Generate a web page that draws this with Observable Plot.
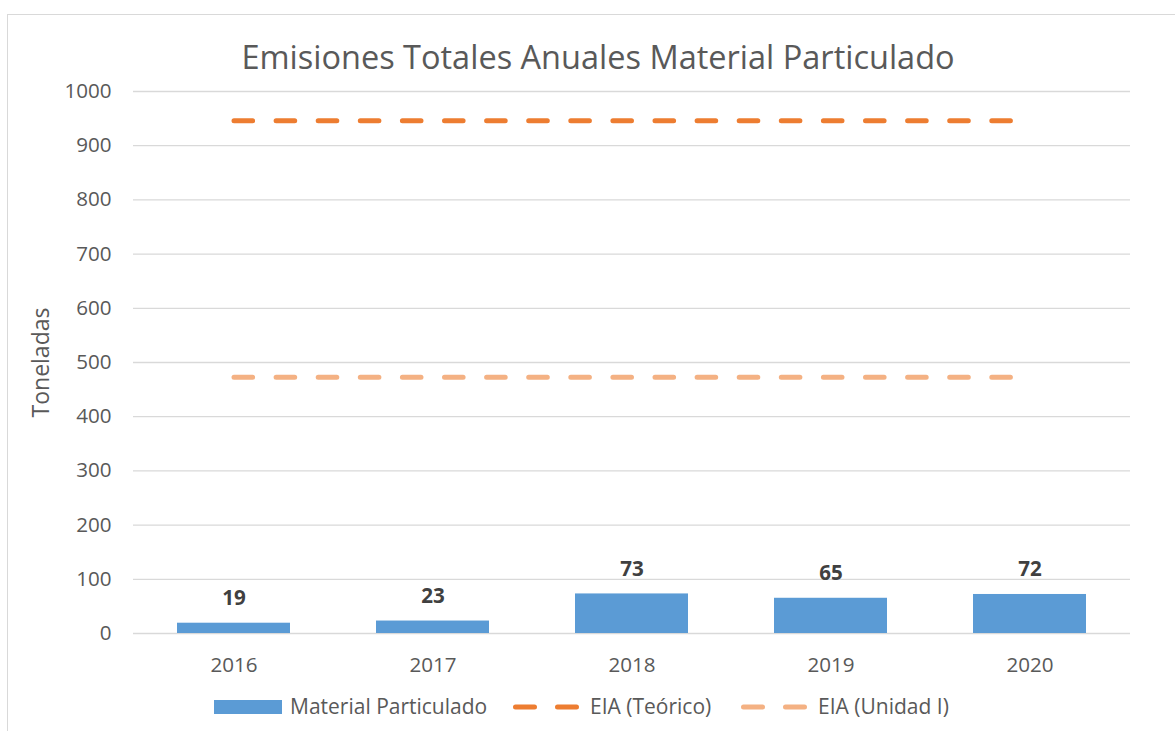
<!DOCTYPE html>
<html>
<head>
<meta charset="utf-8">
<script src="https://cdn.jsdelivr.net/npm/d3@7"></script>
<script src="https://cdn.jsdelivr.net/npm/@observablehq/plot@0.6"></script>
<style>
  html, body { margin: 0; padding: 0; background: #fff; }
  body { width: 1175px; height: 731px; position: relative; overflow: hidden; font-family: "Open Sans", sans-serif; color: #595959; }
  #frame { position: absolute; left: 7px; top: 14px; width: 1300px; height: 900px; border: 1.5px solid #d9d9d9; box-sizing: border-box; }
  #title { position: absolute; left: 0; top: 37px; width: 1196px; height: 40px; line-height: 40px; text-align: center; font-size: 32.5px; color: #595959; white-space: nowrap; }
  #chart { position: absolute; left: 0; top: 78px; }
  .lg { position: absolute; height: 30px; line-height: 30px; top: 691px; font-size: 21px; color: #595959; white-space: nowrap; }
  .sw { position: absolute; }
</style>
</head>
<body>
<div id="frame"></div>
<div id="title">Emisiones Totales Anuales Material Particulado</div>
<div id="chart"></div>
<div class="sw" id="sw1" style="left:214px; top:700px; width:68px; height:14px; background:#5B9BD5;"></div>
<div class="lg" style="left:290px;">Material Particulado</div>
<svg class="sw" style="left:513px; top:697px;" width="66" height="20"><line x1="2.5" x2="63.5" y1="10" y2="10" stroke="#ED7D31" stroke-width="5" stroke-linecap="round" stroke-dasharray="19 23"/></svg>
<div class="lg" style="left:590px;">EIA (Teórico)</div>
<svg class="sw" style="left:741px; top:697px;" width="66" height="20"><line x1="2.5" x2="63.5" y1="10" y2="10" stroke="#F4B183" stroke-width="5" stroke-linecap="round" stroke-dasharray="19 23"/></svg>
<div class="lg" style="left:818px;">EIA (Unidad I)</div>
<script>
const years = ["2016", "2017", "2018", "2019", "2020"];
const materialParticulado = [19, 23, 73, 65, 72];
const eiaTeorico = [946, 946, 946, 946, 946];
const eiaUnidadI = [473, 473, 473, 473, 473];
const yTicks = [0, 100, 200, 300, 400, 500, 600, 700, 800, 900, 1000];

const bars = years.map((y, i) => ({year: y, value: materialParticulado[i]}));
const teo = years.map((y, i) => ({year: y, value: eiaTeorico[i]}));
const uni = years.map((y, i) => ({year: y, value: eiaUnidadI[i]}));

const chart = Plot.plot({
  width: 1175,
  height: 600,
  marginLeft: 133,
  marginRight: 45,
  marginTop: 13,
  marginBottom: 45,
  style: {fontFamily: "Open Sans", fontSize: "20.6px", color: "#595959", background: "transparent", overflow: "visible"},
  x: {type: "band", domain: years, paddingInner: 0.43, paddingOuter: 0.215},
  y: {domain: [0, 1000]},
  marks: [
    Plot.gridY(yTicks, {stroke: "#d9d9d9", strokeOpacity: 1, strokeWidth: 1.3}),
    Plot.barY(bars, {x: "year", y: "value", fill: "#5B9BD5"}),
    Plot.line(teo, {x: "year", y: "value", stroke: "#ED7D31", strokeWidth: 5, strokeLinecap: "round", strokeDasharray: "18.6 23.5"}),
    Plot.line(uni, {x: "year", y: "value", stroke: "#F4B183", strokeWidth: 5, strokeLinecap: "round", strokeDasharray: "18.6 23.5"}),
    Plot.text(bars, {x: "year", y: "value", text: d => String(d.value), dy: -25, fontWeight: "bold", fontSize: 20.6, fill: "#404040"}),
    Plot.axisY(yTicks, {tickSize: 0, tickPadding: 22, label: null, fontSize: 20.6, tickFormat: d => String(d)}),
    Plot.axisX({tickSize: 0, tickPadding: 24, label: null, fontSize: 20.6}),
    Plot.text(["Toneladas"], {frameAnchor: "left", textAnchor: "middle", dx: -92, rotate: -90, fontSize: 23, fill: "#595959"})
  ]
});
document.getElementById("chart").appendChild(chart);
</script>
</body>
</html>
